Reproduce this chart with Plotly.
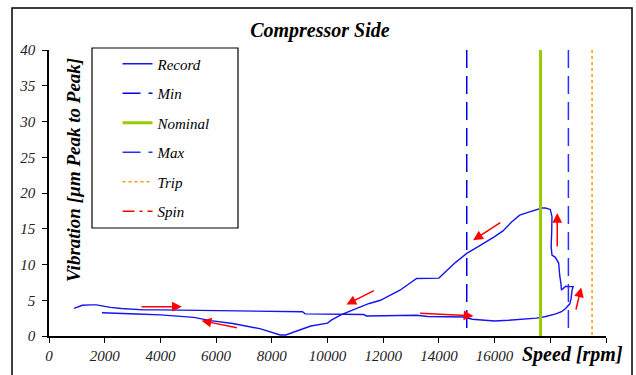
import plotly.graph_objects as go

# Run-up followed by coast-down, shaft speed in rpm vs vibration in µm pk-pk
record_speed = [
    900, 1000, 1200, 1500, 1700, 2000, 2200, 2600, 3000, 3400, 4000, 4700,
    5500, 6000, 6700, 7500, 8300, 9100, 9200, 10000, 11000, 11300, 11400,
    12000, 13200, 13600, 14000, 14900, 15200, 15500, 16000, 16500, 17000,
    17500, 17800, 18000, 18200, 18400, 18550, 18700, 18750, 18780, 18820,
    18700, 18550, 18450, 18400, 18380, 18340, 18300, 18180, 18060, 18030,
    18050, 18060, 18000, 17820, 17700, 17500, 17200, 16900, 16600, 16300,
    16000, 15500, 15000, 14600, 14300, 14000, 13200, 12600, 11900, 11500,
    11050, 10500, 10150, 10000, 9400, 8800, 8500, 8300, 7600, 6600, 5800,
    5200, 4000, 3150, 1900,
]
record_vib = [
    3.85, 4.0, 4.3, 4.35, 4.35, 4.15, 4.0, 3.85, 3.75, 3.65, 3.65, 3.62,
    3.6, 3.58, 3.55, 3.45, 3.42, 3.4, 3.1, 3.08, 3.05, 3.0, 2.8,
    2.85, 2.9, 2.72, 2.7, 2.65, 2.35, 2.25, 2.1, 2.2, 2.3,
    2.5, 2.7, 2.85, 3.1, 3.4, 3.85, 4.5, 5.3, 6.4, 6.9,
    6.9, 6.95, 6.6, 6.5, 7.4, 8.4, 10.2, 11.0, 11.3, 12.5,
    14.5, 16.7, 17.7, 17.9, 17.9, 17.7, 17.3, 16.9, 15.9, 14.7,
    13.9, 12.7, 11.55, 10.3, 9.2, 8.1, 8.05, 6.4, 5.0, 4.55,
    3.85, 3.0, 2.25, 1.8, 1.4, 0.6, 0.15, 0.15, 1.0, 1.75, 2.15,
    2.6, 2.95, 3.08, 3.25,
]

# Reference speeds (rpm), drawn top-down across the vibration span
min_speed = 15000
nominal_speed = 17650
max_speed = 18650
trip_speed = 19500
vib_span = [40, 0]

# Direction arrows: (head speed, head vib, tail speed, tail vib)
arrow_heads_x = [4770, 5480, 10680, 15230, 15240, 18250, 19110]
arrow_heads_y = [4.1, 2.15, 4.4, 13.4, 2.8, 17.2, 6.8]
arrow_tails_x = [3270, 6800, 11720, 16260, 13270, 18250, 18910]
arrow_tails_y = [4.1, 1.1, 6.45, 16.0, 3.2, 12.3, 3.5]

x_tick_vals = [0, 2000, 4000, 6000, 8000, 10000, 12000, 14000, 16000, 18000, 20000]
x_tick_text = ["0", "2000", "4000", "6000", "8000", "10000", "12000", "14000", "16000", "", ""]

SERIF = "Liberation Serif"

fig = go.Figure()

fig.add_trace(go.Scatter(
    x=record_speed, y=record_vib, mode="lines", name="Record",
    line=dict(color="#1414F0", width=1.4), legendgroup="a",
))
fig.add_trace(go.Scatter(
    x=[min_speed, min_speed], y=vib_span, mode="lines", name="Min",
    line=dict(color="#0000F0", width=1.5, dash="18px,8px"), legendgroup="b",
))
fig.add_trace(go.Scatter(
    x=[nominal_speed, nominal_speed], y=vib_span, mode="lines", name="Nominal",
    line=dict(color="#99CC00", width=3), legendgroup="c",
))
fig.add_trace(go.Scatter(
    x=[max_speed, max_speed], y=vib_span, mode="lines", name="Max",
    line=dict(color="#2C2CFF", width=1.5, dash="18px,8px"), legendgroup="d",
))
fig.add_trace(go.Scatter(
    x=[trip_speed, trip_speed], y=vib_span, mode="lines", name="Trip",
    line=dict(color="#FF9900", width=1.5, dash="3px,3px"), legendgroup="e",
))
fig.add_trace(go.Scatter(
    x=[None], y=[None], mode="lines", name="Spin",
    line=dict(color="#FF0000", width=1.5, dash="12px,5px,3px,5px"), legendgroup="f",
))

annotations = []
for hx, hy, tx, ty in zip(arrow_heads_x, arrow_heads_y, arrow_tails_x, arrow_tails_y):
    annotations.append(dict(
        x=hx, y=hy, ax=tx, ay=ty, xref="x", yref="y", axref="x", ayref="y",
        text="", showarrow=True, arrowhead=2, arrowsize=1.3, arrowwidth=1.5,
        arrowcolor="#FF0000",
    ))

annotations.append(dict(
    text="Vibration [µm Peak to Peak]", textangle=-90,
    x=0.0431, y=0.5804, xref="paper", yref="paper",
    xanchor="center", yanchor="middle", showarrow=False,
    font=dict(family=SERIF, size=19, color="#000000", style="italic", weight="bold"),
))
annotations.append(dict(
    text="Speed [rpm]", x=0.939, y=-0.063, xref="paper", yref="paper",
    xanchor="center", yanchor="middle", showarrow=False,
    font=dict(family=SERIF, size=20, color="#000000", style="italic", weight="bold"),
))

shapes = [
    # chart frame
    dict(type="rect", xref="paper", yref="paper",
         x0=-0.0664, x1=1.0467, y0=-0.16, y1=1.1469,
         line=dict(color="#000000", width=1.5), fillcolor="rgba(0,0,0,0)", layer="below"),
    # legend frame
    dict(type="rect", xref="paper", yref="paper",
         x0=0.0772, x1=0.3393, y0=0.3776, y1=1.007,
         line=dict(color="#000000", width=1.2), fillcolor="#FFFFFF", layer="below"),
]

tick_font = dict(family=SERIF, size=15, color="#222222", style="italic")

fig.update_layout(
    width=636, height=375,
    margin=dict(l=49, r=30, t=50, b=39),
    paper_bgcolor="#FFFFFF", plot_bgcolor="rgba(0,0,0,0)",
    title=dict(
        text="Compressor Side", x=0.503, xref="container", xanchor="center",
        y=0.92, yref="container", yanchor="middle",
        font=dict(family=SERIF, size=20, color="#000000", style="italic", weight="bold"),
    ),
    xaxis=dict(
        range=[0, 20000], tickvals=x_tick_vals, ticktext=x_tick_text,
        ticks="outside", ticklen=5, tickcolor="#000000", tickwidth=1,
        showline=True, linecolor="#000000", linewidth=1.5,
        showgrid=False, zeroline=False, tickfont=tick_font,
    ),
    yaxis=dict(
        range=[0, 40], dtick=5, ticks="outside", ticklen=5,
        tickcolor="#000000", tickwidth=1,
        showline=True, linecolor="#000000", linewidth=1.5,
        showgrid=False, zeroline=False, tickfont=tick_font,
        ticklabelstandoff=4,
    ),
    legend=dict(
        x=0.123, y=1.009, xanchor="left", yanchor="top",
        bgcolor="rgba(0,0,0,0)", borderwidth=0,
        tracegroupgap=7, itemwidth=30,
        font=dict(family=SERIF, size=15, color="#000000", style="italic"),
    ),
    annotations=annotations,
    shapes=shapes,
    showlegend=True,
)

fig.write_html("out.html")
